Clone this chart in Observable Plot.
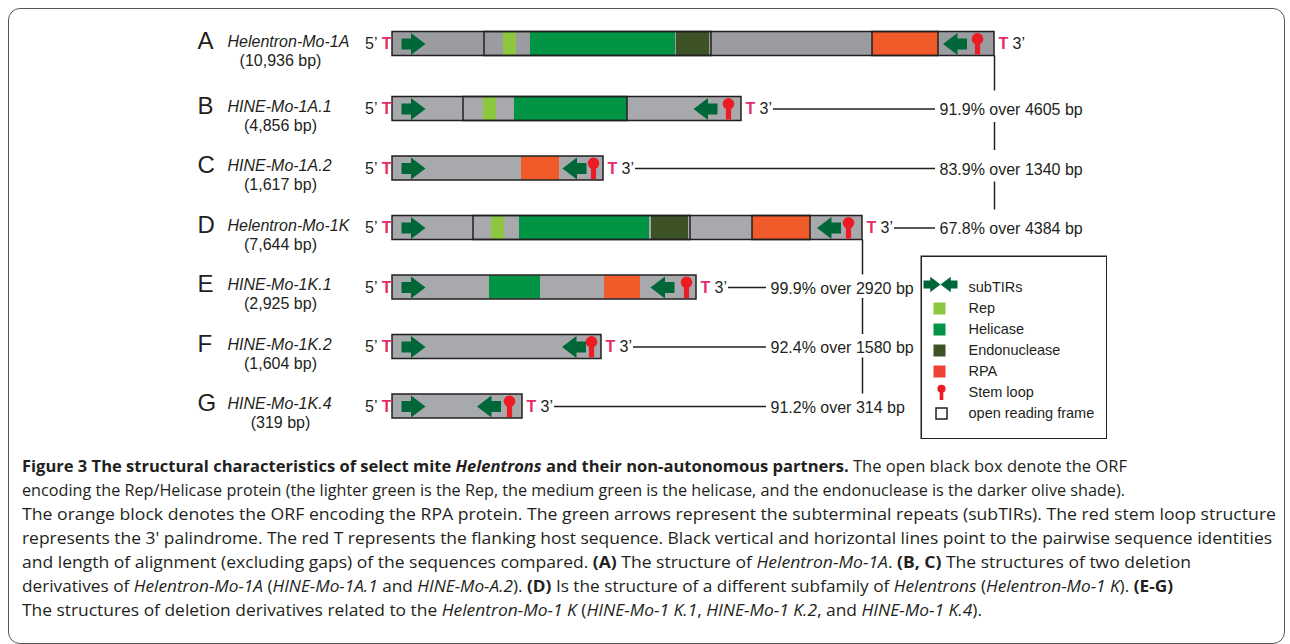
<!DOCTYPE html>
<html><head><meta charset="utf-8">
<script src="https://cdn.jsdelivr.net/npm/d3@7"></script>
<script src="https://cdn.jsdelivr.net/npm/@observablehq/plot@0.6"></script>
<style>
body{margin:0;background:#fff;}
#wrap{position:relative;width:1290px;height:644px;overflow:hidden;font-family:"Liberation Sans",Arial,sans-serif;}
#frame{position:absolute;left:8px;top:8px;width:1277px;height:636px;border:1.5px solid #555;border-radius:12px;box-sizing:border-box;}
#chart{position:absolute;left:0;top:0;}
#legend{position:absolute;left:920px;top:255px;}
#caption{position:absolute;left:22px;top:454px;font-family:"Open Sans",sans-serif;font-size:16px;color:#231f20;}
.cl{white-space:nowrap;height:24px;line-height:24px;}
.cl span.in{display:inline-block;transform-origin:0 50%;}
</style></head>
<body>
<div id="wrap">
  <div id="frame"></div>
  <div id="chart"></div>
  <div id="legend"></div>
  <div id="caption">
    <div class="cl"><span class="in"><b>Figure 3 The structural characteristics of select mite <i>Helentrons</i> and their non-autonomous partners.</b> The open black box denote the ORF</span></div>
    <div class="cl"><span class="in">encoding the Rep/Helicase protein (the lighter green is the Rep, the medium green is the helicase, and the endonuclease is the darker olive shade).</span></div>
    <div class="cl"><span class="in">The orange block denotes the ORF encoding the RPA protein. The green arrows represent the subterminal repeats (subTIRs). The red stem loop structure</span></div>
    <div class="cl"><span class="in">represents the 3' palindrome. The red T represents the flanking host sequence. Black vertical and horizontal lines point to the pairwise sequence identities</span></div>
    <div class="cl"><span class="in">and length of alignment (excluding gaps) of the sequences compared. <b>(A)</b> The structure of <i>Helentron-Mo-1A</i>. <b>(B, C)</b> The structures of two deletion</span></div>
    <div class="cl"><span class="in">derivatives of <i>Helentron-Mo-1A</i> (<i>HINE-Mo-1A.1</i> and <i>HINE-Mo-A.2</i>). <b>(D)</b> Is the structure of a different subfamily of <i>Helentrons</i> (<i>Helentron-Mo-1 K</i>). <b>(E-G)</b></span></div>
    <div class="cl"><span class="in">The structures of deletion derivatives related to the <i>Helentron-Mo-1 K</i> (<i>HINE-Mo-1 K.1</i>, <i>HINE-Mo-1 K.2</i>, and <i>HINE-Mo-1 K.4</i>).</span></div>
  </div>
</div>
<script>
// ---------------- DATA ----------------
const rows  = ["A","B","C","D","E","F","G"];
const names = ["Helentron-Mo-1A","HINE-Mo-1A.1","HINE-Mo-1A.2","Helentron-Mo-1K","HINE-Mo-1K.1","HINE-Mo-1K.2","HINE-Mo-1K.4"];
const sizes = ["(10,936 bp)","(4,856 bp)","(1,617 bp)","(7,644 bp)","(2,925 bp)","(1,604 bp)","(319 bp)"];
// schematic element lengths (diagram units)
const barEnds   = [602, 349, 211, 470, 304, 209, 130];
const subTIR5   = [21, 21, 21, 21, 21, 21, 21];
const subTIR3   = [562.5, 313, 182, 436.5, 270, 181.5, 96.5];
const stemLoops = [585, 336, 201, 456, 294, 199, 117];
// protein domains
const domainRow   = ["A","A","A","A","B","B","C","D","D","D","D","E","E"];
const domainType  = ["Rep","Helicase","Endonuclease","RPA","Rep","Helicase","RPA","Rep","Helicase","Endonuclease","RPA","Helicase","RPA"];
const domainStart = [111,138,284,480, 91,122,129, 99,127,259,360, 97,212];
const domainEnd   = [124,283,317,546,104,235,167,112,257,296,418,148,248];
// open reading frames
const orfRow   = ["A","A","B","D","D"];
const orfStart = [92,480,71,81,360];
const orfEnd   = [319,546,235,298,418];
// pairwise identities
const identityRow    = ["B","C","D","E","F","G"];
const identityParent = ["A","A","A","D","D","D"];
const identityText   = ["91.9% over 4605 bp","83.9% over 1340 bp","67.8% over 4384 bp","99.9% over 2920 bp","92.4% over 1580 bp","91.2% over 314 bp"];
// legend
const legendItems = ["subTIRs","Rep","Helicase","Endonuclease","RPA","Stem loop","open reading frame"];

// ---------------- STYLE ----------------
const domainColors = {Rep:"#8dc63f", Helicase:"#009444", Endonuclease:"#3d5326", RPA:"#f15a29"};
const legendSwatch = {Rep:"#8dc63f", Helicase:"#009444", Endonuclease:"#3d5326", RPA:"#ef4136"};
const INK = "#231f20", GREEN = "#006838", RED = "#ed1c24", TCOL = "#e42a6a";
const barFill = i => i === 0 ? "#9a9c9f" : "#a7a9ac";
const labelX = {A: 547, D: 378};

// custom symbols
const arrowRight = {draw(c, size){ const k = Math.sqrt(size/Math.PI)/12;
  c.moveTo(-12*k,-5.5*k); c.lineTo(-2.5*k,-5.5*k); c.lineTo(-2.5*k,-11*k); c.lineTo(12*k,0);
  c.lineTo(-2.5*k,11*k); c.lineTo(-2.5*k,5.5*k); c.lineTo(-12*k,5.5*k); c.closePath(); }};
const arrowLeft = {draw(c, size){ const k = Math.sqrt(size/Math.PI)/12;
  c.moveTo(12*k,-5.5*k); c.lineTo(2.5*k,-5.5*k); c.lineTo(2.5*k,-11*k); c.lineTo(-12*k,0);
  c.lineTo(2.5*k,11*k); c.lineTo(2.5*k,5.5*k); c.lineTo(12*k,5.5*k); c.closePath(); }};
const stemLoop = {draw(c, size){ const k = Math.sqrt(size/Math.PI)/12;
  c.moveTo(-2.6*k,-5*k); c.lineTo(2.6*k,-5*k); c.lineTo(2.6*k,10.5*k); c.lineTo(-2.6*k,10.5*k); c.closePath();
  c.moveTo(5.8*k,-5.2*k); c.arc(0,-5.2*k,5.8*k,0,2*Math.PI); c.closePath(); }};
const square = {draw(c, size){ const s = Math.sqrt(size/Math.PI);
  c.moveTo(-s,-s); c.lineTo(s,-s); c.lineTo(s,s); c.lineTo(-s,s); c.closePath(); }};

// ---------------- TABLES ----------------
const ri = r => rows.indexOf(r);
const bars = rows.map((r,i) => ({row:i, start:0, end:barEnds[i], fill:barFill(i)}));
const domains = domainRow.map((r,i) => ({row:ri(r), type:domainType[i], start:domainStart[i], end:domainEnd[i]}));
const orfs = orfRow.map((r,i) => ({row:ri(r), start:orfStart[i], end:orfEnd[i]}));
const tirR = rows.map((r,i) => ({row:i, x:subTIR5[i]}));
const tirL = rows.map((r,i) => ({row:i, x:subTIR3[i]}));
const stems = rows.map((r,i) => ({row:i, x:stemLoops[i]}));
const labels = rows.map((r,i) => ({row:i, letter:r, name:names[i], size:sizes[i], end:barEnds[i]}));
const idents = identityRow.map((r,i) => ({row:ri(r), parent:identityParent[i], text:identityText[i],
  px:barEnds[ri(identityParent[i])], lx:labelX[identityParent[i]], childEnd:barEnds[ri(r)]}));
// vertical connector segments
const segs = idents.map((d,i) => {
  const prev = (i>0 && idents[i-1].parent===d.parent) ? idents[i-1].row : ri(d.parent);
  return {x:d.px, from:prev, to:d.row, first: prev===ri(d.parent), group:d.parent};
});

const vRules = (group, first, top, bottom) => Plot.ruleX(segs.filter(s => s.group===group && s.first===first),
  {x:"x", y1:"from", y2:"to", insetTop:top, insetBottom:bottom, stroke:INK, strokeWidth:1.5});

const chart = Plot.plot({
  width:1290, height:445, margin:0,
  style:{fontFamily:"'Liberation Sans', Arial, sans-serif", background:"transparent", color:INK},
  x:{domain:[-392, 898], range:[0,1290], axis:null},
  y:{type:"linear", domain:[0,1,6], range:[43.5,108.5,406], axis:null},
  marks:[
    // connectors
    vRules("A", true, 12, 18), vRules("A", false, 13.5, 18),
    vRules("D", true, 12, 12.5), vRules("D", false, 11, 12.5),
    Plot.ruleY(idents, {y:"row", x1:d => d.childEnd + 32, x2:d => d.lx - 4, stroke:INK, strokeWidth:1.5}),
    // bars
    Plot.rect(bars, {x1:"start", x2:"end", y1:"row", y2:"row", insetTop:-12, insetBottom:-12, fill:"fill"}),
    Plot.rect(domains, {x1:"start", x2:"end", y1:"row", y2:"row", insetTop:-11.5, insetBottom:-11.5, fill:d => domainColors[d.type]}),
    Plot.rect(orfs, {x1:"start", x2:"end", y1:"row", y2:"row", insetTop:-12, insetBottom:-12, fill:"none", stroke:INK, strokeWidth:1.5}),
    Plot.rect(bars, {x1:"start", x2:"end", y1:"row", y2:"row", insetTop:-12, insetBottom:-12, fill:"none", stroke:INK, strokeWidth:1.5}),
    // subTIRs & stem loops
    Plot.dot(tirR, {x:"x", y:"row", symbol:arrowRight, r:12, fill:GREEN, stroke:"none"}),
    Plot.dot(tirL, {x:"x", y:"row", symbol:arrowLeft, r:12, fill:GREEN, stroke:"none"}),
    Plot.dot(stems, {x:"x", y:"row", symbol:stemLoop, r:12, fill:RED, stroke:"none"}),
    // flanking labels
    Plot.text(labels, {x:-1, y:"row", text:() => "T", textAnchor:"end", fontWeight:"bold", fontSize:16, fill:TCOL}),
    Plot.text(labels, {x:-15, y:"row", text:() => "5\u2019", textAnchor:"end", fontSize:16, fill:INK}),
    Plot.text(labels, {x:d => d.end + 4, y:"row", text:() => "T", textAnchor:"start", fontWeight:"bold", fontSize:16, fill:TCOL}),
    Plot.text(labels, {x:d => d.end + 18, y:"row", text:() => "3\u2019", textAnchor:"start", fontSize:16, fill:INK}),
    // row labels
    Plot.text(labels, {x:-195, y:"row", text:"letter", textAnchor:"start", fontSize:24, dy:-3, fill:INK}),
    Plot.text(labels, {x:-165, y:"row", text:"name", textAnchor:"start", fontSize:16, fontStyle:"italic", dy:-2.5, fill:INK}),
    Plot.text(labels, {x:-112, y:"row", text:"size", textAnchor:"middle", fontSize:16, dy:16.5, fill:INK}),
    // identities
    Plot.text(idents, {x:"lx", y:"row", text:"text", textAnchor:"start", fontSize:16, dy:1, fill:INK})
  ]
});
document.getElementById("chart").appendChild(chart);

const swatches = legendItems.filter(d => legendSwatch[d]);
const legend = Plot.plot({
  width:187, height:184, margin:0,
  style:{fontFamily:"'Liberation Sans', Arial, sans-serif", background:"transparent", color:INK},
  x:{domain:[0,187], range:[0,187], axis:null},
  y:{type:"point", domain:legendItems, range:[20,169], axis:null},
  marks:[
    Plot.frame({stroke:INK, strokeWidth:1.5, inset:0.75}),
    Plot.dot(["subTIRs"], {x:11.5, y:d => d, dy:-3, symbol:arrowRight, r:8.5, fill:GREEN, stroke:"none"}),
    Plot.dot(["subTIRs"], {x:28.5, y:d => d, dy:-3, symbol:arrowLeft, r:8.5, fill:GREEN, stroke:"none"}),
    Plot.dot(swatches, {x:19, y:d => d, symbol:square, r:6, fill:d => legendSwatch[d], stroke:"none"}),
    Plot.dot(["Stem loop"], {x:21, y:d => d, symbol:stemLoop, r:8.5, fill:RED, stroke:"none"}),
    Plot.dot(["open reading frame"], {x:21, y:d => d, symbol:square, r:5.5, fill:"none", stroke:INK, strokeWidth:1.5}),
    Plot.text(legendItems, {x:48, y:d => d, text:d => d, textAnchor:"start", fontSize:14.5, fill:INK})
  ]
});
document.getElementById("legend").appendChild(legend);

// fit caption lines to the reference line lengths
const capRight = [1127, 1125, 1276, 1272, 1191, 1173, 982];
function fitCaption(){
  document.querySelectorAll("#caption .in").forEach((el,i) => {
    el.style.transform = "none";
    const w = el.getBoundingClientRect().width;
    el.style.transform = `scaleX(${(capRight[i]-22)/w})`;
  });
}
fitCaption();
if (document.fonts && document.fonts.ready) document.fonts.ready.then(fitCaption);
</script>
</body></html>
